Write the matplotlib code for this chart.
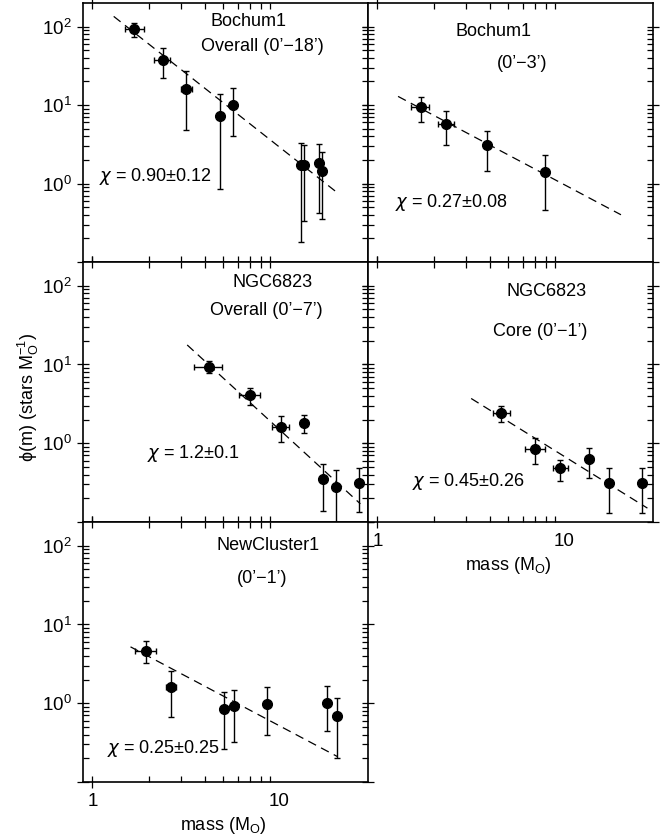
import numpy as np
import matplotlib
matplotlib.use("Agg")
import matplotlib.pyplot as plt
from matplotlib.ticker import NullFormatter

plt.rcParams['font.family'] = ['Liberation Sans', 'DejaVu Sans']
plt.rcParams['mathtext.fontset'] = 'dejavusans'

# Bochum1, overall (0'-18')
b1_m = [1.68, 2.39, 3.18, 4.80, 5.69, 13.1, 13.7, 16.3, 17.0]
b1_m_lo = [1.49, 2.15, 3.00, 4.80, 5.69, 13.1, 13.7, 16.3, 17.0]
b1_m_hi = [1.88, 2.62, 3.40, 4.80, 5.69, 13.1, 13.7, 16.3, 17.0]
b1_phi = [92.0, 37.7, 16.0, 7.3, 10.0, 1.71, 1.71, 1.83, 1.43]
b1_phi_lo = [74.5, 22.0, 4.86, 0.84, 4.07, 0.18, 0.33, 0.42, 0.35]
b1_phi_hi = [110.0, 53.0, 27.3, 13.9, 16.4, 3.29, 3.13, 3.22, 2.5]
b1_fit_m = [1.30, 20.6]
b1_fit_phi = [135.0, 0.76]

# Bochum1, core (0'-3')
b1c_m = [1.71, 2.34, 3.86, 7.94]
b1c_m_lo = [1.52, 2.11, 3.86, 7.94]
b1c_m_hi = [1.90, 2.57, 3.86, 7.94]
b1c_phi = [9.4, 5.8, 3.07, 1.41]
b1c_phi_lo = [6.0, 3.07, 1.43, 0.46]
b1c_phi_hi = [12.6, 8.5, 4.7, 2.34]
b1c_fit_m = [1.29, 20.2]
b1c_fit_phi = [12.9, 0.40]

# NGC6823, overall (0'-7')
n_m = [4.24, 6.98, 10.2, 13.7, 17.2, 20.2, 26.9]
n_m_lo = [3.49, 6.10, 9.20, 13.7, 17.2, 20.2, 26.9]
n_m_hi = [4.96, 7.90, 11.3, 13.7, 17.2, 20.2, 26.9]
n_phi = [9.3, 4.04, 1.63, 1.80, 0.35, 0.28, 0.31]
n_phi_lo = [7.7, 3.1, 1.05, 1.34, 0.136, 0.09, 0.133]
n_phi_hi = [11.1, 5.07, 2.19, 2.31, 0.55, 0.46, 0.49]
n_fit_m = [3.22, 27.3]
n_fit_phi = [17.7, 0.17]

# NGC6823, core (0'-1')
nc_m = [4.60, 7.03, 9.52, 13.7, 17.5, 26.3]
nc_m_lo = [4.15, 6.18, 8.69, 13.1, 17.5, 26.3]
nc_m_hi = [5.16, 7.94, 10.5, 14.3, 17.5, 26.3]
nc_phi = [2.42, 0.85, 0.48, 0.63, 0.31, 0.31]
nc_phi_lo = [1.86, 0.54, 0.33, 0.36, 0.13, 0.13]
nc_phi_hi = [2.94, 1.16, 0.62, 0.88, 0.49, 0.49]
nc_fit_m = [3.18, 28.0]
nc_fit_phi = [3.7, 0.15]

# NewCluster1 (0'-1')
nw_m = [1.94, 2.65, 5.10, 5.73, 8.66, 18.0, 20.4]
nw_m_lo = [1.70, 2.49, 5.10, 5.73, 8.66, 18.0, 20.4]
nw_m_hi = [2.19, 2.82, 5.10, 5.73, 8.66, 18.0, 20.4]
nw_phi = [4.67, 1.63, 0.84, 0.91, 0.985, 1.02, 0.68]
nw_phi_lo = [3.2, 0.66, 0.26, 0.32, 0.39, 0.44, 0.20]
nw_phi_hi = [6.1, 2.58, 1.39, 1.48, 1.59, 1.64, 1.16]
nw_fit_m = [1.60, 20.6]
nw_fit_phi = [5.2, 0.21]

W, H = 672, 836
fig = plt.figure(figsize=(W / 100, H / 100), dpi=100)


def make_ax(x0, y0, x1, y1):
    return fig.add_axes([x0 / W, 1 - y1 / H, (x1 - x0) / W, (y1 - y0) / H])


ax_tl = make_ax(83, 3, 368, 262)
ax_tr = make_ax(368, 3, 653, 262)
ax_ml = make_ax(83, 262, 368, 522)
ax_mr = make_ax(368, 262, 653, 522)
ax_bl = make_ax(83, 522, 368, 782)


def style(ax, xlabels, ylabels):
    ax.set_xscale('log')
    ax.set_yscale('log')
    ax.set_xlim(0.89, 30)
    ax.set_ylim(0.1, 200)
    ax.set_xticks([1, 10])
    ax.set_xticks([2, 3, 4, 5, 6, 7, 8, 9], minor=True)
    ax.set_xticklabels(['1', '10'] if xlabels else ['', ''])
    ax.xaxis.set_minor_formatter(NullFormatter())
    ax.set_yticks([0.1, 1, 10, 100])
    ax.set_yticks([s * d for d in (0.1, 1, 10) for s in range(2, 10)], minor=True)
    if ylabels:
        ax.set_yticklabels(['', r'$\mathregular{10^{0}}$', r'$\mathregular{10^{1}}$',
                            r'$\mathregular{10^{2}}$'])
    else:
        ax.set_yticklabels(['', '', '', ''])
    ax.yaxis.set_minor_formatter(NullFormatter())
    ax.tick_params(which='both', top=True, right=True, labelsize=13.5, width=0.9)
    ax.tick_params(which='major', direction='inout', length=8, pad=4)
    ax.tick_params(which='minor', direction='in', length=4)
    for sp in ax.spines.values():
        sp.set_linewidth(1.2)
    # only the tick at 1 is drawn on the mass axis
    for t in ax.xaxis.get_major_ticks()[1:]:
        t.tick1line.set_visible(False)
        t.tick2line.set_visible(False)


def draw(ax, m, mlo, mhi, phi, plo, phi_hi, fm, fphi):
    m, mlo, mhi = np.array(m), np.array(mlo), np.array(mhi)
    phi, plo, phi_hi = np.array(phi), np.array(plo), np.array(phi_hi)
    ax.plot(fm, fphi, color='black', lw=0.9, ls=(0, (7, 4.5)))
    ax.errorbar(m, phi, yerr=[phi - plo, phi_hi - phi], xerr=[m - mlo, mhi - m],
                fmt='o', color='black', ms=7, elinewidth=1.0, capsize=2.2,
                capthick=1.0)


draw(ax_tl, b1_m, b1_m_lo, b1_m_hi, b1_phi, b1_phi_lo, b1_phi_hi, b1_fit_m, b1_fit_phi)
draw(ax_tr, b1c_m, b1c_m_lo, b1c_m_hi, b1c_phi, b1c_phi_lo, b1c_phi_hi, b1c_fit_m, b1c_fit_phi)
draw(ax_ml, n_m, n_m_lo, n_m_hi, n_phi, n_phi_lo, n_phi_hi, n_fit_m, n_fit_phi)
draw(ax_mr, nc_m, nc_m_lo, nc_m_hi, nc_phi, nc_phi_lo, nc_phi_hi, nc_fit_m, nc_fit_phi)
draw(ax_bl, nw_m, nw_m_lo, nw_m_hi, nw_phi, nw_phi_lo, nw_phi_hi, nw_fit_m, nw_fit_phi)

style(ax_tl, False, True)
style(ax_tr, False, False)
style(ax_ml, False, True)
style(ax_mr, True, False)
style(ax_bl, True, True)

fs = 13
kw = dict(fontsize=fs, ha='center', va='center')
chi = dict(fontsize=fs, ha='left', va='center')
ax_tl.text(0.582, 0.928, 'Bochum1', transform=ax_tl.transAxes, **kw)
ax_tl.text(0.628, 0.831, "Overall (0’−18’)", transform=ax_tl.transAxes, **kw)
ax_tl.text(0.056, 0.329, r'$\chi$ = 0.90±0.12', transform=ax_tl.transAxes, **chi)

ax_tr.text(0.442, 0.889, 'Bochum1', transform=ax_tr.transAxes, **kw)
ax_tr.text(0.541, 0.767, "(0’−3’)", transform=ax_tr.transAxes, **kw)
ax_tr.text(0.095, 0.229, r'$\chi$ = 0.27±0.08', transform=ax_tr.transAxes, **chi)

ax_ml.text(0.665, 0.920, 'NGC6823', transform=ax_ml.transAxes, **kw)
ax_ml.text(0.643, 0.815, "Overall (0’−7’)", transform=ax_ml.transAxes, **kw)
ax_ml.text(0.224, 0.262, r'$\chi$ = 1.2±0.1', transform=ax_ml.transAxes, **chi)

ax_mr.text(0.627, 0.886, 'NGC6823', transform=ax_mr.transAxes, **kw)
ax_mr.text(0.605, 0.732, "Core (0’−1’)", transform=ax_mr.transAxes, **kw)
ax_mr.text(0.154, 0.155, r'$\chi$ = 0.45±0.26', transform=ax_mr.transAxes, **chi)

ax_bl.text(0.650, 0.911, 'NewCluster1', transform=ax_bl.transAxes, **kw)
ax_bl.text(0.629, 0.783, "(0’−1’)", transform=ax_bl.transAxes, **kw)
ax_bl.text(0.083, 0.129, r'$\chi$ = 0.25±0.25', transform=ax_bl.transAxes, **chi)

# axis titles
fig.text(28 / W, 1 - 397 / H, r'ϕ(m) (stars M$_\mathregular{O}^{\mathregular{-1}}$)',
         rotation=90, fontsize=fs, ha='center', va='center')
fig.text(508 / W, 1 - 566 / H, r'mass (M$_\mathregular{O}$)', fontsize=fs,
         ha='center', va='center')
fig.text(223 / W, 1 - 826 / H, r'mass (M$_\mathregular{O}$)', fontsize=fs,
         ha='center', va='center')

fig.savefig('out.png', dpi=100)
